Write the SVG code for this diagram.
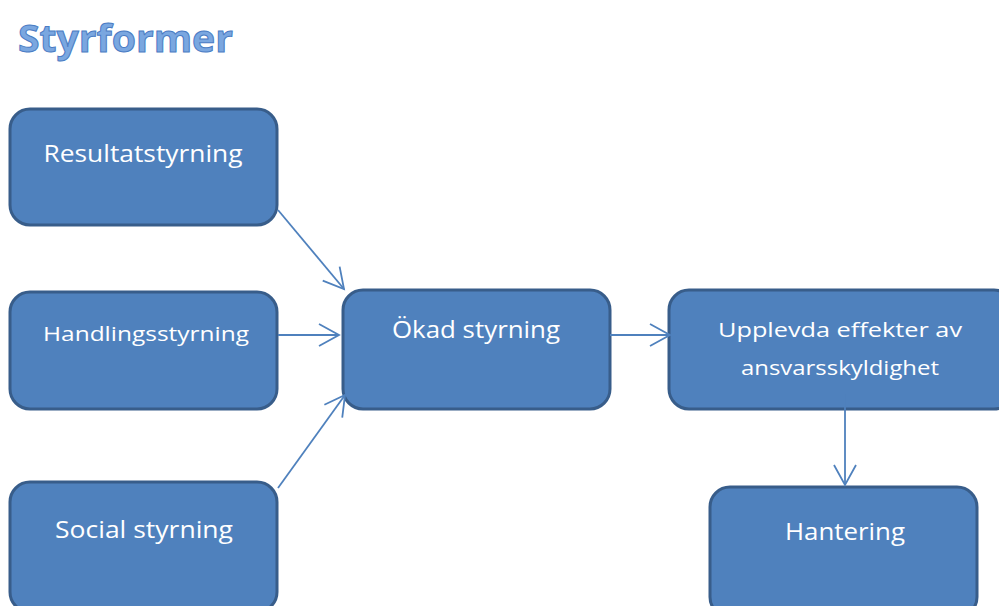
<svg xmlns="http://www.w3.org/2000/svg" width="999" height="606" viewBox="0 0 999 606">
<style>
.box{fill:#4f81bd;stroke:#385d8a;stroke-width:3}
.lbl{font-family:"Open Sans","DejaVu Sans",sans-serif;fill:#ffffff;text-anchor:middle}
.con{stroke:#4f81bd;stroke-width:1.8;fill:none;marker-end:url(#arr)}
.title{font-family:"Open Sans","DejaVu Sans",sans-serif;font-weight:bold;font-size:38px;fill:#7aa7e0;stroke:#4a7cc4;stroke-width:1}
</style>
<defs>
<marker id="arr" markerUnits="userSpaceOnUse" markerWidth="24" markerHeight="26" refX="21" refY="12" orient="auto" viewBox="0 0 24 24">
<path d="M1,1 L21,12 L1,23" fill="none" stroke="#4f81bd" stroke-width="1.8"/>
</marker>
</defs>
<rect width="999" height="606" fill="#ffffff"/>
<text class="title" x="18" y="52" textLength="215" lengthAdjust="spacingAndGlyphs">Styrformer</text>
<g id="n1"><rect class="box" x="10" y="109" width="267" height="116" rx="20"/><text class="lbl" x="143" y="162" font-size="23" textLength="199" lengthAdjust="spacingAndGlyphs">Resultatstyrning</text></g>
<g id="n2"><rect class="box" x="10" y="292" width="267" height="117" rx="20"/><text class="lbl" x="146" y="341" font-size="20" textLength="206" lengthAdjust="spacingAndGlyphs">Handlingsstyrning</text></g>
<g id="n3"><rect class="box" x="10" y="482" width="267" height="130" rx="20"/><text class="lbl" x="144" y="538" font-size="23" textLength="178" lengthAdjust="spacingAndGlyphs">Social styrning</text></g>
<g id="n4"><rect class="box" x="343" y="290" width="267" height="119" rx="20"/><text class="lbl" x="476" y="338" font-size="23" textLength="168" lengthAdjust="spacingAndGlyphs">Ökad styrning</text></g>
<g id="n5"><rect class="box" x="669" y="290" width="345" height="119" rx="20"/><text class="lbl" x="840" y="337" font-size="20" textLength="244" lengthAdjust="spacingAndGlyphs">Upplevda effekter av</text><text class="lbl" x="840" y="375" font-size="20" textLength="198" lengthAdjust="spacingAndGlyphs">ansvarsskyldighet</text></g>
<g id="n6"><rect class="box" x="710" y="487" width="267" height="130" rx="20"/><text class="lbl" x="845" y="540" font-size="23" textLength="120" lengthAdjust="spacingAndGlyphs">Hantering</text></g>
<g id="connectors">
<line class="con" x1="278" y1="210" x2="344" y2="289"/>
<line class="con" x1="278" y1="335" x2="339" y2="335"/>
<line class="con" x1="278" y1="488" x2="345" y2="395"/>
<line class="con" x1="610" y1="335" x2="670" y2="335"/>
<line class="con" x1="845" y1="394" x2="845" y2="485"/>
</g>
</svg>
